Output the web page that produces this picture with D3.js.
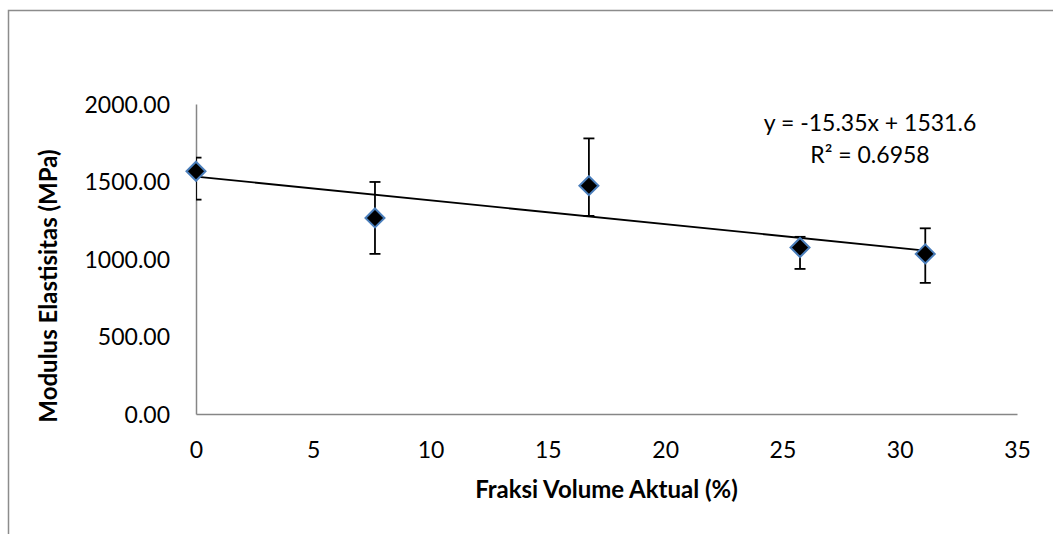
<!DOCTYPE html>
<html>
<head>
<meta charset="utf-8">
<script src="https://cdn.jsdelivr.net/npm/d3@7"></script>
<style>
  body { margin: 0; background: #fff; }
  text { font-family: Lato, "Open Sans", sans-serif; fill: #000; }
</style>
</head>
<body>
<div id="chart"></div>
<script>
// data
var fraksi = [0, 7.63, 16.75, 25.75, 31.09];
var modulus = [1566, 1265, 1473, 1074, 1033];
var errUp = [88, 232, 305, 69, 165];
var errDown = [183, 232, 195, 138, 187];
var xTicks = [0, 5, 10, 15, 20, 25, 30, 35];
var yTicks = [0, 500, 1000, 1500, 2000];
var slope = -15.35;
var intercept = 1531.6;

var svgWidth = 1053;
var svgHeight = 534;

var margin = { top: 104, right: 36, bottom: 120, left: 196 };
var width = svgWidth - margin.left - margin.right;
var height = svgHeight - margin.top - margin.bottom;

var svg = d3.select("#chart")
  .append("svg")
  .attr("width", svgWidth)
  .attr("height", svgHeight);

// outer chart frame (only top and left edges are visible)
svg.append("path")
  .attr("d", "M8.5," + svgHeight + " L8.5,10.5 L" + svgWidth + ",10.5")
  .attr("fill", "none")
  .attr("stroke", "#8c8c8c")
  .attr("stroke-width", 1.5);

var chartGroup = svg.append("g")
  .attr("transform", `translate(${margin.left}, ${margin.top})`);

var x = d3.scaleLinear().domain([0, 35]).range([0, width]);
var y = d3.scaleLinear().domain([0, 2000]).range([height, 0]);

// axes
var bottomAxis = d3.axisBottom(x).tickValues(xTicks).tickSize(0).tickPadding(26);
var leftAxis = d3.axisLeft(y).tickValues(yTicks).tickSize(0).tickPadding(26).tickFormat(d3.format(".2f"));

var gx = chartGroup.append("g")
  .attr("transform", `translate(0, ${height})`)
  .call(bottomAxis);
var gy = chartGroup.append("g").call(leftAxis);

[gx, gy].forEach(function(g) {
  g.select(".domain").attr("stroke", "#868686").attr("stroke-width", 1.5);
  g.selectAll("text")
    .style("font-family", "Lato, sans-serif")
    .style("font-size", "23px")
    .attr("fill", "#000");
});
gx.selectAll("text").attr("dy", "0.35em").attr("y", 36);
gy.selectAll("text").attr("dy", "0.35em");

// clip for error bars (Excel clips to plot area)
svg.append("clipPath").attr("id", "plotClip")
  .append("rect").attr("x", 0).attr("y", -20).attr("width", width).attr("height", height + 20);

// trendline
chartGroup.append("line")
  .attr("x1", x(0))
  .attr("y1", y(intercept))
  .attr("x2", x(d3.max(fraksi)))
  .attr("y2", y(slope * d3.max(fraksi) + intercept))
  .attr("stroke", "#000")
  .attr("stroke-width", 1.8);

var pts = fraksi.map(function(f, i) {
  return { x: f, y: modulus[i], up: errUp[i], down: errDown[i] };
});

// error bars
var eb = chartGroup.append("g").attr("clip-path", "url(#plotClip)")
  .selectAll("g")
  .data(pts)
  .enter()
  .append("g")
  .attr("stroke", "#000")
  .attr("stroke-width", 1.8);

eb.append("line")
  .attr("x1", d => x(d.x)).attr("x2", d => x(d.x))
  .attr("y1", d => y(d.y + d.up)).attr("y2", d => y(d.y - d.down));
eb.append("line")
  .attr("x1", d => x(d.x) - 5.5).attr("x2", d => x(d.x) + 5.5)
  .attr("y1", d => y(d.y + d.up)).attr("y2", d => y(d.y + d.up));
eb.append("line")
  .attr("x1", d => x(d.x) - 5.5).attr("x2", d => x(d.x) + 5.5)
  .attr("y1", d => y(d.y - d.down)).attr("y2", d => y(d.y - d.down));

// diamond markers
chartGroup.selectAll("path.marker")
  .data(pts)
  .enter()
  .append("path")
  .attr("class", "marker")
  .attr("d", "M0,-9.5 L9.5,0 L0,9.5 L-9.5,0 Z")
  .attr("transform", d => `translate(${x(d.x)}, ${y(d.y)})`)
  .attr("fill", "#000")
  .attr("stroke", "#4a7ebb")
  .attr("stroke-width", 2);

// trendline equation
var eq = chartGroup.append("text")
  .attr("x", 674)
  .attr("y", 27)
  .attr("text-anchor", "middle")
  .style("font-size", "23px");
eq.append("tspan").attr("x", 674).text("y = -15.35x + 1531.6");
eq.append("tspan").attr("x", 674).attr("dy", 32).text("R² = 0.6958");

// axis titles
chartGroup.append("text")
  .attr("x", width / 2)
  .attr("y", height + 84)
  .attr("text-anchor", "middle")
  .style("font-size", "24px")
  .style("font-weight", "bold")
  .text("Fraksi Volume Aktual (%)");

chartGroup.append("text")
  .attr("transform", "rotate(-90)")
  .attr("x", -(height / 2) - 27)
  .attr("y", -139)
  .attr("text-anchor", "middle")
  .style("font-size", "24px")
  .style("font-weight", "bold")
  .text("Modulus Elastisitas (MPa)");
</script>
</body>
</html>
